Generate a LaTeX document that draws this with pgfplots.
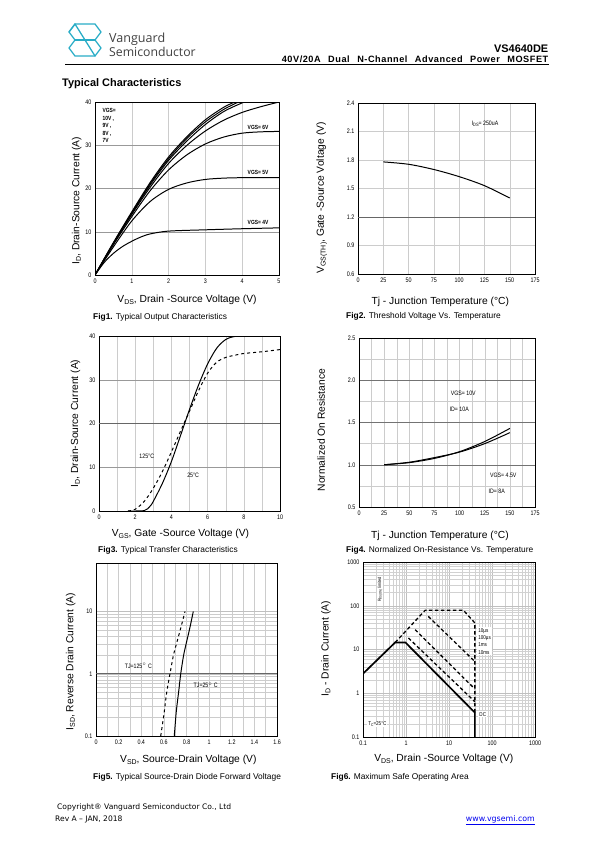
\documentclass[border=0pt]{standalone}
\usepackage{fontspec}
\setmainfont{Liberation Sans}
\newfontfamily\narrow[FakeStretch=0.82]{Liberation Sans}
\newfontfamily\logofont{Open Sans}
\newfontfamily\footfont{DejaVu Sans}
\newfontfamily\subtfont[LetterSpace=6]{Liberation Sans}
\usepackage{pgfplots}
\pgfplotsset{compat=1.18}
\definecolor{logoteal}{RGB}{40,172,198}
\definecolor{linkblue}{RGB}{0,0,238}
\newcommand{\fs}[1]{\fontsize{#1}{#1}\selectfont}
\newcommand{\sub}[1]{\raisebox{-0.3ex}{\fontsize{7}{7}\selectfont #1}}
\tikzset{lbl/.style={font=\narrow\fs{6.4}, inner sep=0.5pt}}
\pgfplotsset{
  ds/.style={
    scale only axis,
    axis line style={black, line width=0.9pt},
    major tick length=0pt, minor tick length=0pt,
    major grid style={draw=black!40, line width=0.45pt},
    minor grid style={draw=black!20, line width=0.4pt},
    tick label style={font=\narrow\fs{6.6}},
    /pgf/number format/assume math mode=true,
    label style={font=\fs{10.3}},
    ylabel style={anchor=center},
    xlabel style={anchor=center},
  },
  darkline/.style={extra y tick labels={}, extra y tick style={major grid style={draw=black!60, line width=0.55pt}}},
  cv/.style={black, line width=1pt, mark=none},
}
\begin{document}
\begin{tikzpicture}
\useasboundingbox (0,0) rectangle (595bp,-842bp);
\begin{scope}[x=1bp,y=-1bp]
  % logo
  \begin{scope}[draw=logoteal, line width=1.3pt, line join=round, line cap=round]
    \draw (69,32) -- (75,24) -- (95,24) -- (101,32) -- (95,40);
    \draw (75,24) -- (69,32) -- (75,40);
    \draw (75,40) -- (69,48) -- (75,56) -- (95,56) -- (101,48) -- (95,40);
    \draw (75,24) -- (95,56);
    \draw (75,40) -- (95,40);
  \end{scope}
  \node[anchor=base west, inner sep=0, text=black!75, font=\logofont\fs{12.6}] at (109,42) {Vanguard};
  \node[anchor=base west, inner sep=0, text=black!75, font=\logofont\fs{12.3}] at (109,56.5) {Semiconductor};
  \node[anchor=base east, inner sep=0, font=\bfseries\fs{11}] at (548.5,52.3) {VS4640DE};
  \node[anchor=base east, inner sep=0, font=\subtfont\bfseries\fs{9.2}] at (548.5,62.4) {\makebox[266.5bp][s]{40V/20A Dual N-Channel Advanced Power MOSFET}};
  \draw[line width=0.9pt] (65,64.8) -- (549,64.8);
  \node[anchor=base west, inner sep=0, font=\bfseries\fs{11}] at (62,86) {Typical Characteristics};
  % captions
  \node[anchor=west, inner sep=0, font=\fs{8.4}] at (93,317) {\textbf{Fig1.} Typical Output Characteristics};
  \node[anchor=west, inner sep=0, font=\fs{8.4}] at (346,316.5) {\textbf{Fig2.} Threshold Voltage Vs. Temperature};
  \node[anchor=west, inner sep=0, font=\fs{8.4}] at (98,550.5) {\textbf{Fig3.} Typical Transfer Characteristics};
  \node[anchor=west, inner sep=0, font=\fs{8.4}] at (346,550.5) {\textbf{Fig4.} Normalized On-Resistance Vs. Temperature};
  \node[anchor=west, inner sep=0, font=\fs{8.4}] at (93,777.5) {\textbf{Fig5.} Typical Source-Drain Diode Forward Voltage};
  \node[anchor=west, inner sep=0, font=\fs{8.4}] at (331,777) {\textbf{Fig6.} Maximum Safe Operating Area};
  % footer
  \node[anchor=base west, inner sep=0, font=\footfont\fs{7.6}] at (57,809) {Copyright® Vanguard Semiconductor Co., Ltd};
  \node[anchor=base west, inner sep=0, font=\footfont\fs{7.6}] at (55,821) {Rev A – JAN, 2018};
  \node[anchor=base east, inner sep=0, font=\footfont\fs{7.9}, text=linkblue] at (535,821) {\underline{www.vgsemi.com}};
\end{scope}

% ---------------- Fig1 ----------------
\begin{axis}[ds, at={(95bp,-275bp)}, anchor=south west, width=184bp, height=173bp,
  xmin=0, xmax=5, ymin=0, ymax=40, xtick={0,1,2,3,4,5}, ytick={0,10,20,30,40},
  minor xtick={1,2,3,4}, xminorgrids=true, ymajorgrids=true,
  xlabel={V\sub{DS}, Drain -Source Voltage (V)}, ylabel={I\sub{D}, Drain-Source Current (A)},
  xlabel style={at={(axis description cs:0.5,-0.145)}},
  ylabel style={at={(axis description cs:-0.1,0.43)}}]
\addplot[cv, smooth] coordinates {(0,0) (0.25,2.9) (0.5,5.0) (0.75,6.6) (1,7.8) (1.25,8.8) (1.5,9.5) (2,10.15) (3,10.45) (4,10.7) (5,10.9)};
\addplot[cv, smooth] coordinates {(0,0) (0.5,6.5) (1,12.5) (1.5,17) (2,19.8) (2.5,21.3) (3,22.1) (3.5,22.4) (4,22.5) (5,22.5)};
\addplot[cv, smooth] coordinates {(0,0) (0.5,7) (1,13.5) (1.5,19.5) (2,24.3) (2.5,27.8) (3,30.3) (3.5,31.9) (4,32.8) (4.5,33.1) (5,33.2)};
\addplot[cv, smooth] coordinates {(0,0) (0.5,7.2) (1,14) (1.5,20.3) (2,25.8) (2.5,30) (3,33.3) (3.5,35.8) (4,37.6) (4.5,38.9) (5,40)};
\addplot[cv, smooth] coordinates {(0,0) (0.5,7.3) (1,14.2) (1.5,20.8) (2,26.5) (2.5,31) (3,34.8) (3.5,37.8) (4,39.8) (4.1,40)};
\addplot[cv, smooth] coordinates {(0,0) (0.5,7.4) (1,14.4) (1.5,21.1) (2,26.9) (2.5,31.6) (3,35.4) (3.5,38.3) (3.9,40)};
\addplot[cv, smooth] coordinates {(0,0) (0.5,7.5) (1,14.6) (1.5,21.4) (2,27.3) (2.5,32) (3,35.9) (3.5,38.8) (3.8,40)};
\node[anchor=north west, align=left, inner sep=0, font=\narrow\bfseries\fontsize{6}{7.6}\selectfont] at (axis cs:0.2,38.6) {VGS=\\10V ,\\9V ,\\8V ,\\7V};
\node[font=\narrow\bfseries\fs{6}, inner sep=0] at (axis cs:4.43,34.2) {VGS= 6V};
\node[font=\narrow\bfseries\fs{6}, inner sep=0] at (axis cs:4.43,23.8) {VGS= 5V};
\node[font=\narrow\bfseries\fs{6}, inner sep=0] at (axis cs:4.43,12.1) {VGS= 4V};
\end{axis}

% ---------------- Fig2 ----------------
\begin{axis}[ds, at={(358bp,-274bp)}, anchor=south west, width=177bp, height=171bp,
  xmin=0, xmax=175, ymin=0.6, ymax=2.4, xtick={0,25,50,75,100,125,150,175},
  ytick={0.6,0.9,1.2,1.5,1.8,2.1,2.4}, yticklabels={0.6,0.9,1.2,1.5,1.8,2.1,2.4},
  major grid style={draw=black!20, line width=0.4pt}, grid=major,
  extra y ticks={1.2}, darkline,
  xlabel={Tj - Junction Temperature (°C)}, ylabel={V\sub{GS(TH)}, Gate -Source Voltage (V)},
  xlabel style={at={(axis description cs:0.465,-0.16)}},
  ylabel style={at={(axis description cs:-0.205,0.445)}}]
\addplot[cv, smooth] coordinates {(25,1.78) (50,1.755) (75,1.70) (100,1.625) (125,1.53) (150,1.40)};
\node[lbl] at (axis cs:125.6,2.18) {I\raisebox{-0.2ex}{\fs{4.8}DS}= 250uA};
\end{axis}

% ---------------- Fig3 ----------------
\begin{axis}[ds, at={(99bp,-511bp)}, anchor=south west, width=181bp, height=175bp,
  xmin=0, xmax=10, ymin=0, ymax=40, xtick={0,2,4,6,8,10}, ytick={0,10,20,30,40},
  minor xtick={1,2,3,4,5,6,7,8,9}, xminorgrids=true, ymajorgrids=true,
  extra y ticks={20}, darkline,
  xlabel={V\sub{GS}, Gate -Source Voltage (V)}, ylabel={I\sub{D}, Drain-Source Current (A)},
  xlabel style={at={(axis description cs:0.45,-0.132)}},
  ylabel style={at={(axis description cs:-0.13,0.5)}}]
\addplot[cv, smooth] coordinates {(1.6,0) (2.5,0.1) (2.8,1) (3.0,2.2) (3.5,6.3) (4,11.3) (4.5,17.2) (5,23.2) (5.5,28.8) (6,33.6) (6.5,37.2) (7,39.2) (7.5,39.9) (8,40)};
\addplot[cv, smooth, dashed] coordinates {(1.6,0) (2,0.4) (2.5,2.2) (3,5.2) (3.5,9) (4,13.5) (4.5,18.2) (5,22.8) (5.5,27.5) (6,31.5) (6.5,34) (7,35.1) (7.5,35.6) (8,36) (9,36.4) (10,36.9)};
\node[lbl] at (axis cs:2.64,12.6) {125°C};
\node[lbl] at (axis cs:5.2,8.1) {25°C};
\end{axis}

% ---------------- Fig4 ----------------
\begin{axis}[ds, at={(359bp,-507bp)}, anchor=south west, width=176bp, height=169bp,
  xmin=0, xmax=175, ymin=0.5, ymax=2.5, xtick={0,25,50,75,100,125,150,175},
  ytick={0.5,1,1.5,2,2.5}, yticklabels={0.5,1.0,1.5,2.0,2.5},
  minor xtick={12.5,25,37.5,50,62.5,75,87.5,100,112.5,125,137.5,150,162.5},
  minor ytick={0.75,1.25,1.75,2.25},
  xminorgrids=true, yminorgrids=true, ymajorgrids=true,
  major grid style={draw=black!55, line width=0.5pt},
  xlabel={Tj - Junction Temperature (°C)}, ylabel={Normalized On Resistance},
  xlabel style={at={(axis description cs:0.46,-0.168)}},
  ylabel style={at={(axis description cs:-0.215,0.455)}}]
\addplot[cv, smooth] coordinates {(25,1.0) (50,1.025) (75,1.075) (100,1.155) (125,1.275) (150,1.43)};
\addplot[cv, smooth] coordinates {(25,1.0) (50,1.03) (75,1.085) (100,1.15) (125,1.25) (150,1.38)};
\node[lbl] at (axis cs:103.7,1.85) {VGS= 10V};
\node[lbl] at (axis cs:99.7,1.656) {ID= 10A};
\node[lbl] at (axis cs:143.5,0.87) {VGS= 4.5V};
\node[lbl] at (axis cs:137,0.69) {ID= 8A};
\end{axis}

% ---------------- Fig5 ----------------
\begin{axis}[ds, at={(96bp,-736bp)}, anchor=south west, width=181bp, height=173bp,
  ymode=log, xmin=0, xmax=1.6, ymin=0.1, ymax=60,
  xtick={0,0.2,0.4,0.6,0.8,1,1.2,1.4,1.6}, xticklabels={0,0.2,0.4,0.6,0.8,1,1.2,1.4,1.6},
  minor xtick={0.1,0.2,0.3,0.4,0.5,0.6,0.7,0.8,0.9,1,1.1,1.2,1.3,1.4,1.5},
  ytick={0.1,1,10}, yticklabels={0.1,1,10},
  xminorgrids=true, yminorgrids=true, ymajorgrids=true,
  major grid style={draw=black!25, line width=0.4pt},
  extra y ticks={1}, darkline,
  xlabel={V\sub{SD}, Source-Drain Voltage (V)}, ylabel={I\sub{SD}, Reverse Drain Current (A)},
  xlabel style={at={(axis description cs:0.51,-0.14)}},
  ylabel style={at={(axis description cs:-0.14,0.43)}}]
\addplot[cv, smooth, dashed] coordinates {(0.572,0.1) (0.60,0.22) (0.625,0.5) (0.654,1) (0.685,2) (0.715,3.2) (0.75,5.5) (0.787,10)};
\addplot[cv, smooth] coordinates {(0.692,0.1) (0.71,0.25) (0.73,0.5) (0.749,1) (0.775,2) (0.80,3.2) (0.83,5.5) (0.86,10)};
\node[lbl] at (axis cs:0.374,1.35) {TJ=125$^{\circ}$ C};
\node[lbl] at (axis cs:0.97,0.65) {TJ=25$^{\circ}$ C};
\end{axis}

% ---------------- Fig6 ----------------
\begin{axis}[ds, at={(363bp,-737bp)}, anchor=south west, width=172bp, height=175bp,
  xmode=log, ymode=log, xmin=0.1, xmax=1000, ymin=0.1, ymax=1000,
  xtick={0.1,1,10,100,1000}, xticklabels={0.1,1,10,100,1000},
  ytick={0.1,1,10,100,1000}, yticklabels={0.1,1,10,100,1000},
  grid=both, major grid style={draw=black!25, line width=0.4pt},
  minor grid style={draw=black!18, line width=0.35pt},
  xlabel={V\sub{DS}, Drain -Source Voltage (V)}, ylabel={I\sub{D} - Drain Current (A)},
  xlabel style={at={(axis description cs:0.47,-0.125)}},
  ylabel style={at={(axis description cs:-0.215,0.505)}}]
\addplot[cv, line width=1.3pt, dash pattern=on 3.5pt off 2.5pt] coordinates {(0.56,14.5) (2.8,79) (21.6,79) (40,40.5) (40,0.36)};
\addplot[cv, line width=1.3pt, dash pattern=on 3.5pt off 2.5pt] coordinates {(3.3,57) (40,5.3)};
\addplot[cv, line width=1.3pt, dash pattern=on 3.5pt off 2.5pt] coordinates {(1.63,28.4) (40,1.25)};
\addplot[cv, line width=1.3pt, dash pattern=on 3.5pt off 2.5pt] coordinates {(1.14,18.3) (40,0.64)};
\addplot[cv, line width=1.7pt] coordinates {(0.1,2.8) (0.56,14.5) (0.97,14.5) (40,0.36) (40,0.1)};
\node[font=\narrow\fs{4.6}, fill=white, inner sep=1pt, rotate=90] at (axis cs:0.25,234) {R\raisebox{-0.2ex}{\fs{3.4}DS(ON)} limited};
\node[font=\narrow\fontsize{5.6}{7.4}\selectfont, fill=white, inner sep=1pt, align=left, anchor=west] at (axis cs:45,15.5) {10µs\\100µs\\1ms\\10ms};
\node[font=\narrow\fs{5.6}, fill=white, inner sep=1pt, anchor=west] at (axis cs:48,0.33) {DC};
\node[font=\narrow\fs{5.6}, fill=white, inner sep=1pt, anchor=west] at (axis cs:0.125,0.196) {T\raisebox{-0.2ex}{\fs{4}C}=25°C};
\end{axis}
\end{tikzpicture}
\end{document}
